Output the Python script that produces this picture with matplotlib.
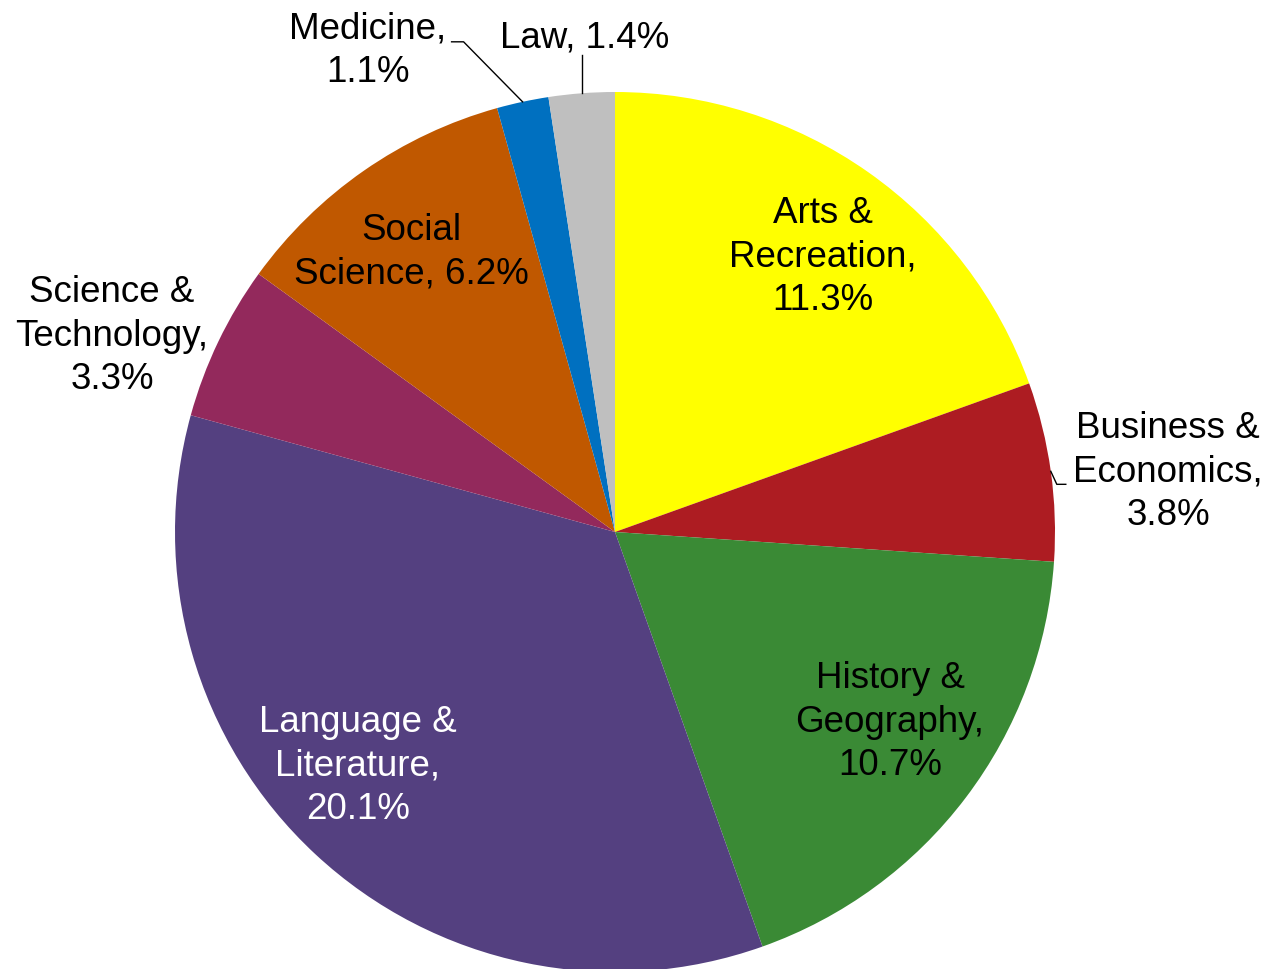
import numpy as np
import matplotlib
matplotlib.use("Agg")
import matplotlib.pyplot as plt

# valeurs (pourcentages)
values = [11.3, 3.8, 10.7, 20.1, 3.3, 6.2, 1.1, 1.4]
labels = ["Arts &\nRecreation,\n11.3%", "Business &\nEconomics,\n3.8%",
          "History &\nGeography,\n10.7%", "Language &\nLiterature,\n20.1%",
          "Science &\nTechnology,\n3.3%", "Social\nScience, 6.2%",
          "Medicine,\n1.1%", "Law, 1.4%"]
colors = ["#FFFF00", "#AD1C22", "#3A8A35", "#544080", "#93295C", "#C05800", "#0070C0", "#BFBFBF"]

W, H = 1268, 969
cx, cy, R = 615, H - 532, 440

fig = plt.figure(figsize=(W / 100, H / 100), dpi=100)
ax = fig.add_axes([0, 0, 1, 1])
wedges, _ = ax.pie(values, colors=colors, startangle=90, counterclock=False,
                   center=(cx, cy), radius=R, wedgeprops=dict(linewidth=0))
ax.set_xlim(0, W)
ax.set_ylim(0, H)
ax.set_aspect("equal")
ax.axis("off")

font = dict(family=["Liberation Sans", "DejaVu Sans"], fontsize=26.5, ha="center", va="center",
            linespacing=1.3)
# position des etiquettes (pixels depuis le haut)
pos = [(823, 257), (1168, 472), (890, 722), (358, 766), (112, 336), (411, 252), (368, 51), (585, 38)]
for i, (lab, (x, y)) in enumerate(zip(labels, pos)):
    col = "white" if i == 3 else "black"
    ax.text(x, H - y, lab, color=col, **font)

# lignes de rappel
def edge(w):
    a = np.deg2rad((w.theta1 + w.theta2) / 2)
    return cx + R * np.cos(a), cy + R * np.sin(a)

ex, ey = edge(wedges[1])
ax.plot([ex, ex + 6, ex + 15], [ey, ey - 13, ey - 13], color="black", lw=1)
ex, ey = edge(wedges[6])
ax.plot([ex, ex - 59, ex - 71], [ey, ey + 60, ey + 60], color="black", lw=1)
ex, ey = edge(wedges[7])
ax.plot([ex, ex], [ey, ey + 38], color="black", lw=1)

fig.savefig("out.png", dpi=100)
